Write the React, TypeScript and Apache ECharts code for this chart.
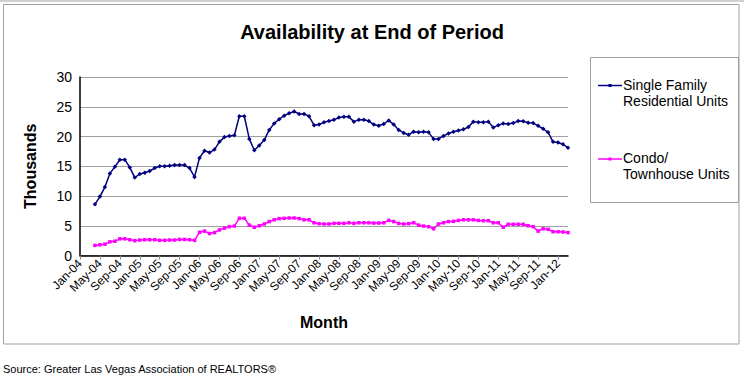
import React, { useEffect, useRef } from "react";
import * as echarts from "echarts";

const MONTHS = ["Jan", "Feb", "Mar", "Apr", "May", "Jun", "Jul", "Aug", "Sep", "Oct", "Nov", "Dec"];
const YEARS = ["04", "05", "06", "07", "08", "09", "10", "11", "12"];
const LAST_MONTH_2012 = 3; // Jan..Mar 2012

const categories: string[] = [];
YEARS.forEach((y, yi) => {
  const n = yi === YEARS.length - 1 ? LAST_MONTH_2012 : 12;
  for (let m = 0; m < n; m++) categories.push(`${MONTHS[m]}-${y}`);
});

const singleFamily: (number | null)[] = [
  null, null, null, 8.6, 9.9, 11.5, 13.8, 14.9, 16.1, 16.1, 14.8, 13.1,
  13.7, 13.9, 14.2, 14.7, 15.0, 15.0, 15.1, 15.2, 15.2, 15.2, 14.7, 13.2,
  16.4, 17.6, 17.3, 17.8, 19.1, 19.9, 20.1, 20.2, 23.4, 23.4, 19.6, 17.7,
  18.5, 19.4, 21.1, 22.2, 22.9, 23.5, 23.9, 24.2, 23.8, 23.8, 23.4, 21.9,
  22.0, 22.4, 22.6, 22.8, 23.2, 23.3, 23.3, 22.5, 22.8, 22.8, 22.6, 22.0,
  21.8, 22.1, 22.7, 22.0, 21.1, 20.6, 20.3, 20.8, 20.7, 20.8, 20.7, 19.6,
  19.6, 20.1, 20.5, 20.8, 21.0, 21.2, 21.6, 22.5, 22.4, 22.4, 22.5, 21.5,
  21.9, 22.2, 22.1, 22.25, 22.6, 22.55, 22.3, 22.25, 21.8, 21.3, 20.7, 19.1,
  19.0, 18.7, 18.1,
];

const condo: (number | null)[] = [
  null, null, null, 1.7, 1.8, 1.9, 2.3, 2.4, 2.8, 2.8, 2.65, 2.5,
  2.6, 2.65, 2.65, 2.65, 2.55, 2.55, 2.6, 2.6, 2.7, 2.7, 2.65, 2.55,
  3.9, 4.1, 3.7, 3.85, 4.3, 4.6, 4.85, 4.95, 6.25, 6.25, 5.1, 4.75,
  5.0, 5.3, 5.7, 6.0, 6.2, 6.25, 6.3, 6.3, 6.2, 6.0, 6.0, 5.5,
  5.35, 5.3, 5.3, 5.4, 5.4, 5.4, 5.5, 5.4, 5.5, 5.5, 5.5, 5.45,
  5.45, 5.5, 5.9, 5.7, 5.4, 5.3, 5.35, 5.5, 5.1, 4.95, 4.85, 4.5,
  5.3, 5.5, 5.7, 5.75, 5.9, 6.0, 6.0, 6.0, 5.9, 5.85, 5.85, 5.5,
  5.5, 4.75, 5.25, 5.25, 5.25, 5.25, 5.0, 4.85, 4.1, 4.5, 4.4, 4.0,
  4.0, 3.95, 3.85,
];

const SERIES_NAMES = ["Single Family\nResidential Units", "Condo/\nTownhouse Units"];
const NAVY = "#000080";
const PINK = "#FF00FF";
const FONT = "Liberation Sans, Arial, sans-serif";

export default function App() {
  const ref = useRef<HTMLDivElement>(null);

  useEffect(() => {
    document.body.style.margin = "0";
    if (!ref.current) return;
    const chart = echarts.init(ref.current, null, { renderer: "svg" });
    chart.setOption({
      animation: false,
      backgroundColor: "#ffffff",
      textStyle: { fontFamily: FONT },
      title: {
        text: "Availability at End of Period",
        left: "center",
        top: 17,
        textStyle: { fontFamily: FONT, fontSize: 20, fontWeight: "bold", color: "#000" },
      },
      grid: { left: 80, right: 176, top: 77, bottom: 124.5, containLabel: false },
      xAxis: {
        type: "category",
        data: categories,
        boundaryGap: false,
        name: "Month",
        nameLocation: "middle",
        nameGap: 59,
        nameTextStyle: { fontFamily: FONT, fontSize: 16, fontWeight: "bold", color: "#000" },
        axisLine: { lineStyle: { color: "#000", width: 1.5 } },
        axisTick: { show: true, interval: 3, length: 4, lineStyle: { color: "#888" } },
        axisLabel: {
          interval: 3,
          rotate: 45,
          fontSize: 12,
          fontFamily: FONT,
          color: "#000",
          margin: 6,
        },
        splitLine: { show: false },
      },
      yAxis: {
        type: "value",
        min: 0,
        max: 30,
        interval: 5,
        name: "Thousands",
        nameLocation: "middle",
        nameRotate: 90,
        nameGap: 42,
        nameTextStyle: { fontFamily: FONT, fontSize: 16, fontWeight: "bold", color: "#000" },
        axisLine: { show: true, lineStyle: { color: "#000", width: 1.5 } },
        axisTick: { show: false },
        axisLabel: { fontSize: 14, fontFamily: FONT, color: "#000", margin: 8 },
        splitLine: { lineStyle: { color: "#a0a0a0", width: 1 } },
      },
      series: [
        {
          name: SERIES_NAMES[0],
          type: "line",
          data: singleFamily,
          connectNulls: false,
          symbol: "diamond",
          symbolSize: 4.5,
          showSymbol: true,
          showAllSymbol: true,
          itemStyle: { color: NAVY },
          lineStyle: { color: NAVY, width: 1.5 },
        },
        {
          name: SERIES_NAMES[1],
          type: "line",
          data: condo,
          connectNulls: false,
          symbol: "rect",
          symbolSize: 3.5,
          showSymbol: true,
          showAllSymbol: true,
          itemStyle: { color: PINK },
          lineStyle: { color: PINK, width: 1.5 },
        },
      ],
      graphic: [
        { type: "line", shape: { x1: 0, y1: 1, x2: 744, y2: 1 }, style: { stroke: "#d0d0d0", lineWidth: 2 }, silent: true },
        { type: "rect", shape: { x: 3.5, y: 4.5, width: 735.5, height: 339.5 }, style: { fill: "none", stroke: "#a0a0a0", lineWidth: 1 }, silent: true },
        { type: "rect", shape: { x: 590.5, y: 57.5, width: 148, height: 145 }, style: { fill: "none", stroke: "#a0a0a0", lineWidth: 1 }, silent: true },
        { type: "line", shape: { x1: 598, y1: 85.5, x2: 622, y2: 85.5 }, style: { stroke: NAVY, lineWidth: 1.5 }, silent: true },
        { type: "rect", shape: { x: 608.5, y: 84, width: 3, height: 3 }, style: { fill: NAVY }, silent: true },
        { type: "line", shape: { x1: 598, y1: 159, x2: 622, y2: 159 }, style: { stroke: PINK, lineWidth: 1.5 }, silent: true },
        { type: "rect", shape: { x: 608.5, y: 157.5, width: 3, height: 3 }, style: { fill: PINK }, silent: true },
        {
          type: "text", left: 623, top: 77,
          style: { text: SERIES_NAMES[0], fontFamily: FONT, fontSize: 14, lineHeight: 16, fill: "#000" },
          silent: true,
        },
        {
          type: "text", left: 623, top: 150,
          style: { text: SERIES_NAMES[1], fontFamily: FONT, fontSize: 14, lineHeight: 16, fill: "#000" },
          silent: true,
        },
        {
          type: "text", left: 3, top: 363,
          style: { text: "Source: Greater Las Vegas Association of REALTORS®", fontFamily: FONT, fontSize: 11, fill: "#000" },
          silent: true,
        },
      ],
    });
    return () => chart.dispose();
  }, []);

  return <div ref={ref} style={{ width: 744, height: 380 }} />;
}
